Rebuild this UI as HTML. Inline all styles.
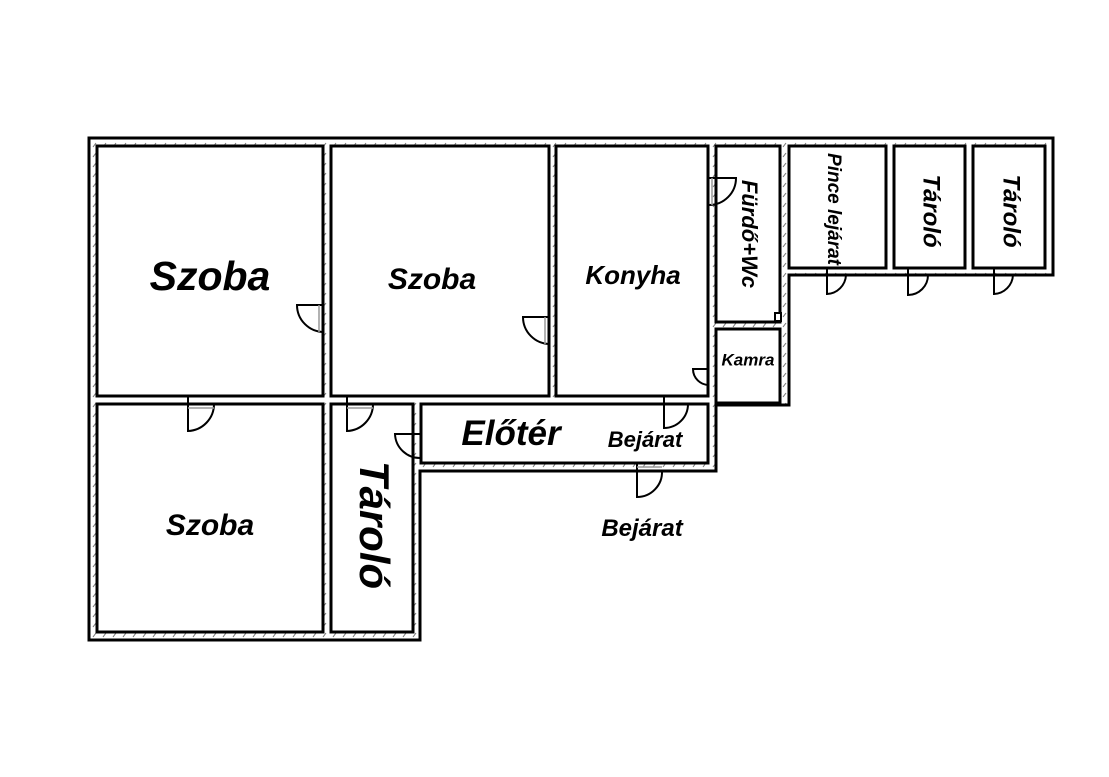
<!DOCTYPE html>
<html><head><meta charset="utf-8"><style>
html,body{margin:0;padding:0;background:#fff;}
svg{display:block}
text{font-family:"Liberation Sans",Arial,sans-serif;font-weight:bold;font-style:italic;fill:#000}
</style></head><body>
<svg width="1109" height="777" viewBox="0 0 1109 777" xmlns="http://www.w3.org/2000/svg">
<defs>
<pattern id="h" width="10" height="10" patternUnits="userSpaceOnUse">
<rect width="10" height="10" fill="#fff"/>
<line x1="3" y1="7" x2="6" y2="3" stroke="#777" stroke-width="1"/>
</pattern>
</defs>
<path d="M89,138 H1053 V275 H789 V405 H716 V471 H420 V640 H89 Z" fill="url(#h)" stroke="#000" stroke-width="3"/>
<g fill="#fff" stroke="#000" stroke-width="3">
<rect x="97" y="146" width="226" height="250"/>
<rect x="331" y="146" width="218" height="250"/>
<rect x="556" y="146" width="152" height="250"/>
<rect x="716" y="146" width="64" height="176"/>
<rect x="716" y="329" width="64" height="74"/>
<rect x="789" y="146" width="97" height="122"/>
<rect x="894" y="146" width="71" height="122"/>
<rect x="973" y="146" width="72" height="122"/>
<rect x="97" y="404" width="226" height="228"/>
<rect x="331" y="404" width="82" height="228"/>
<rect x="421" y="404" width="287" height="59"/>
</g>
<rect x="775" y="313" width="6" height="8" fill="#fff" stroke="#000" stroke-width="2"/>
<g fill="none" stroke="#000" stroke-width="2">
<path d="M323,305 H297 A27,27 0 0 0 324,332"/>
<path d="M549,317 H523 A27,27 0 0 0 550,344"/>
<path d="M708,178 H736 A27,27 0 0 1 709,205"/>
<path d="M708,369 H693 A16,16 0 0 0 709,385"/>
<path d="M188,396 V431 A27,27 0 0 0 214,404"/>
<path d="M347,396 V431 A27,27 0 0 0 373,404"/>
<path d="M421,434 H395 A25,25 0 0 0 421,458"/>
<path d="M664,396 V428 A24,24 0 0 0 688,404"/>
<path d="M637,463 V497 A25,25 0 0 0 662,471"/>
<path d="M827,268 V294 A20,20 0 0 0 846,275"/>
<path d="M908,268 V295 A20,20 0 0 0 928,275"/>
<path d="M994,268 V294 A20,20 0 0 0 1013,275"/>
</g>
<g stroke="#999" stroke-width="1.5">
<line x1="319" y1="305" x2="319" y2="332"/>
<line x1="545" y1="317" x2="545" y2="344"/>
<line x1="712" y1="178" x2="712" y2="205"/>
<line x1="188" y1="408" x2="214" y2="408"/>
<line x1="347" y1="408" x2="373" y2="408"/>
<line x1="637" y1="467" x2="662" y2="467"/>
</g>
<text x="210" y="290" font-size="41" text-anchor="middle">Szoba</text>
<text x="432" y="289" font-size="30" text-anchor="middle">Szoba</text>
<text x="633" y="284" font-size="26" text-anchor="middle">Konyha</text>
<text x="748" y="361" font-size="17" text-anchor="middle" dominant-baseline="middle">Kamra</text>
<text x="511" y="445" font-size="35" text-anchor="middle">Előtér</text>
<text x="645" y="447" font-size="22" text-anchor="middle">Bejárat</text>
<text x="210" y="535" font-size="30" text-anchor="middle">Szoba</text>
<text x="642" y="536" font-size="24" text-anchor="middle">Bejárat</text>
<text transform="translate(371,525) rotate(90)" font-size="42" text-anchor="middle" dominant-baseline="middle">Tároló</text>
<text transform="translate(748,234) rotate(90)" font-size="22" text-anchor="middle" dominant-baseline="middle">Fürdő+Wc</text>
<text transform="translate(833,209) rotate(90)" font-size="19" text-anchor="middle" dominant-baseline="middle">Pince lejárat</text>
<text transform="translate(930,211) rotate(90)" font-size="24" text-anchor="middle" dominant-baseline="middle">Tároló</text>
<text transform="translate(1010,211) rotate(90)" font-size="24" text-anchor="middle" dominant-baseline="middle">Tároló</text>
</svg>
</body></html>
